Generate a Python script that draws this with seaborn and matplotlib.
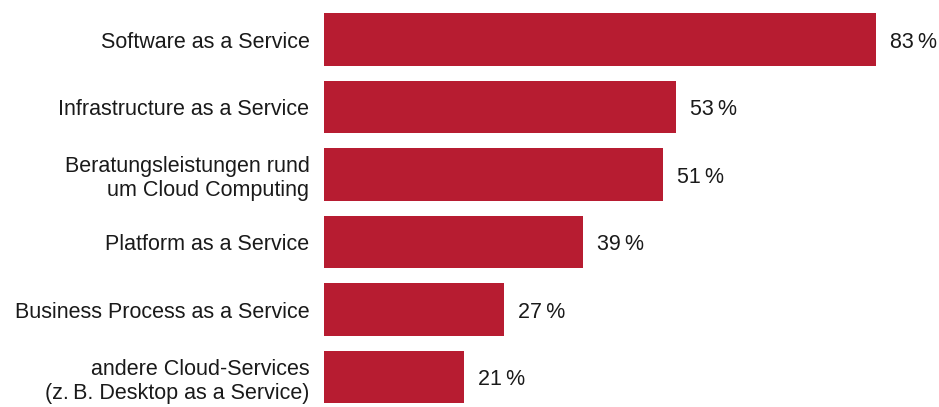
import matplotlib
matplotlib.use("Agg")
import matplotlib.pyplot as plt
import seaborn as sns
import pandas as pd

categories = [
    "Software as a Service",
    "Infrastructure as a Service",
    "Beratungsleistungen rund\num Cloud Computing",
    "Platform as a Service",
    "Business Process as a Service",
    "andere Cloud-Services\n(z.\u2009B. Desktop as a Service)",
]
shares = [83, 53, 51, 39, 27, 21]
value_labels = ["83\u2009%", "53\u2009%", "51\u2009%", "39\u2009%", "27\u2009%", "21\u2009%"]

df = pd.DataFrame({"category": categories, "share": shares})

sns.set_theme(style="white")
plt.rcParams["font.family"] = ["Liberation Sans", "DejaVu Sans"]

W, H, DPI = 939, 407, 100
fig = plt.figure(figsize=(W / DPI, H / DPI), dpi=DPI)
left_px = 324
ax = fig.add_axes([left_px / W, 0, 1 - left_px / W, 1])

bar_color = "#B71C31"
sns.barplot(data=df, x="share", y="category", orient="h", color=bar_color,
            saturation=1, width=0.785, linewidth=0, ax=ax)

px_per_unit = 6.65
ax.set_xlim(0, (W - left_px) / px_per_unit)
step = 67.5
first_center = 39.5
ax.set_ylim((H - first_center) / step, -first_center / step)

fs = 15.5
for i, (v, lab) in enumerate(zip(shares, value_labels)):
    ax.text(v + 14 / px_per_unit, i, lab, va="center_baseline", ha="left",
            fontsize=fs, color="#1a1a1a")

ax.set_xlabel("")
ax.set_ylabel("")
ax.set_xticks([])
ax.tick_params(axis="y", length=0, pad=10.5, labelsize=fs, labelcolor="#1a1a1a")
for lbl in ax.get_yticklabels():
    lbl.set_horizontalalignment("right")
    lbl.set_multialignment("right")
sns.despine(ax=ax, left=True, bottom=True)

fig.savefig("out.png", dpi=DPI)
